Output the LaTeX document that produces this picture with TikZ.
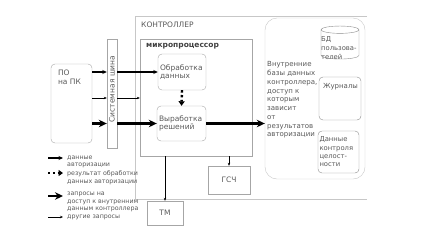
\documentclass[tikz,border=0pt]{standalone}
\usepackage{fontspec}
\setmainfont{DejaVu Sans}
\usetikzlibrary{arrows.meta,positioning,shapes.geometric}

\begin{document}
\begin{tikzpicture}[
  x=1pt, y=-1pt,
  font=\fontsize{7.5}{8.5}\selectfont, text=black!65,
  box/.style={draw=black!35, rounded corners=4pt, inner sep=2pt, align=left},
  sqbox/.style={draw=black!35, inner sep=0pt},
  cyl/.style={draw=black!45, cylinder, shape border rotate=90, aspect=1.1},
  frame/.style={draw=black!22},
  lgd/.style={font=\fontsize{6.3}{7.7}\selectfont, align=left, inner sep=0pt},
  auth/.style={-{Stealth[length=4.5pt,width=4pt]}, line width=1.2pt},
  res/.style={-{Triangle[length=4.5pt,width=6pt]}, line width=2.4pt, dash pattern=on 2.4pt off 2.4pt},
  req/.style={-{Stealth[length=8pt,width=7.5pt]}, line width=2.6pt},
  oth/.style={-{Stealth[length=3pt,width=2.5pt]}, line width=0.6pt}
]
\useasboundingbox (0,0) rectangle (435,239);

% ── controller frame ─────────────────────────────────────────────────────
\draw[frame] (367,16) -- (135,16) -- (135,199) -- (367,199);
\node[anchor=west, inner sep=0pt] (ctl) at (141,25) {КОНТРОЛЛЕР};

% ── microprocessor ──────────────────────────────────────────────────────
\node[sqbox, minimum width=112pt, minimum height=117pt] (mp) at (196,97.5) {};
\node[anchor=west, inner sep=0pt, font=\bfseries\fontsize{7.5}{9}\selectfont, text=black!75]
  (mptxt) at (146,46) {микропроцессор};
\node[box, minimum width=48pt, minimum height=36pt, text width=44pt] (obr) at (182,72)
  {Обработка\\данных};
\node[box, minimum width=49pt, minimum height=35pt, text width=45pt] (vyr) at (181.5,123.5)
  {Выработка\\решений};
\draw[res] (obr.south) -- (vyr.north);

% ── PC software and bus ─────────────────────────────────────────────────
\node[box, minimum width=41pt, minimum height=79pt] (po) at (71.5,103.5) {};
\node[anchor=north west, align=left, inner sep=0pt] (potxt)
  at ([xshift=7pt, yshift=-6pt]po.north west) {ПО\\на ПК};
\node[sqbox, minimum width=10pt, minimum height=109pt] (bus) at (112,93.5) {};
\node[rotate=90, inner sep=0pt] (bustxt) at (112,89) {Системная шина};

\coordinate (othy) at (0,98);
\draw[auth] (po.east |- obr.west) -- (bus.west |- obr.west);
\draw[auth] (bus.east |- obr.west) -- (obr.west);
\draw[oth] (po.east |- othy) -- (bus.west |- othy);
\draw[oth] (bus.east |- othy) -- (mp.west |- othy);
\draw[req] (po.east |- vyr.west) -- (bus.west |- vyr.west);
\draw[req] (bus.east |- vyr.west) -- (vyr.west);

% ── internal databases ──────────────────────────────────────────────────
\node[box, draw=black!22, rounded corners=12pt, minimum width=100pt, minimum height=161pt]
  (db) at (315,98.5) {};
\node[anchor=west, align=left, inner sep=0pt, font=\fontsize{7}{8.75}\selectfont] (dbtxt)
  at (267,100) {Внутренние\\базы данных\\контроллера,\\доступ к\\которым\\зависит\\от\\результатов\\авторизации};
\node[cyl, minimum width=38pt, minimum height=33pt] (bd) at (340,45.5) {};
\node[anchor=west, align=left, inner sep=0pt, font=\fontsize{6.8}{9}\selectfont] (bdtxt)
  at (321,48) {БД\\пользова-\\телей};
\node[box, draw=black!45, minimum width=42pt, minimum height=43pt] (zh) at (340,98.5) {};
\node[inner sep=0pt, font=\fontsize{7}{8}\selectfont] (zhtxt) at (340.5,87) {Журналы};
\node[box, draw=black!45, minimum width=41pt, minimum height=42pt, text width=38pt, inner sep=1.5pt,
  font=\fontsize{6.8}{8.3}\selectfont] (ctrl) at (338.5,152) {Данные\\контроля\\целост-\\ности};
\draw[req] (vyr.east) -- (db.west |- vyr.east);

% ── RNG and TM ──────────────────────────────────────────────────────────
\node[sqbox, minimum width=42pt, minimum height=28pt] (rng) at (229,180) {ГСЧ};
\node[sqbox, minimum width=36pt, minimum height=24pt] (tm) at (165,213) {ТМ};
\draw[oth] (mp.south -| rng.north) -- (rng.north);
\draw[oth] (mp.south -| tm.north) -- (tm.north);

% ── legend ──────────────────────────────────────────────────────────────
\coordinate (k1a) at (48,158); \coordinate (k1b) at (63,158);
\coordinate (k2a) at (48,173); \coordinate (k2b) at (63,173);
\coordinate (k3a) at (48,196); \coordinate (k3b) at (63,196);
\coordinate (k4a) at (48,217); \coordinate (k4b) at (63,217);
\draw[auth] (k1a) -- (k1b);
\draw[res] (k2a) -- (k2b);
\draw[req] (k3a) -- (k3b);
\draw[oth] (k4a) -- (k4b);
\node[lgd, right=4pt of k1b, yshift=-4pt] (l1) {данные\\авторизации};
\node[lgd, right=4pt of k2b, yshift=-4.5pt] (l2) {результат обработки\\данных авторизации};
\node[lgd, right=4pt of k3b, yshift=-6pt] (l3) {запросы на\\доступ к внутренним\\данным контроллера};
\node[lgd, right=4pt of k4b] (l4) {другие запросы};

\end{tikzpicture}
\end{document}
